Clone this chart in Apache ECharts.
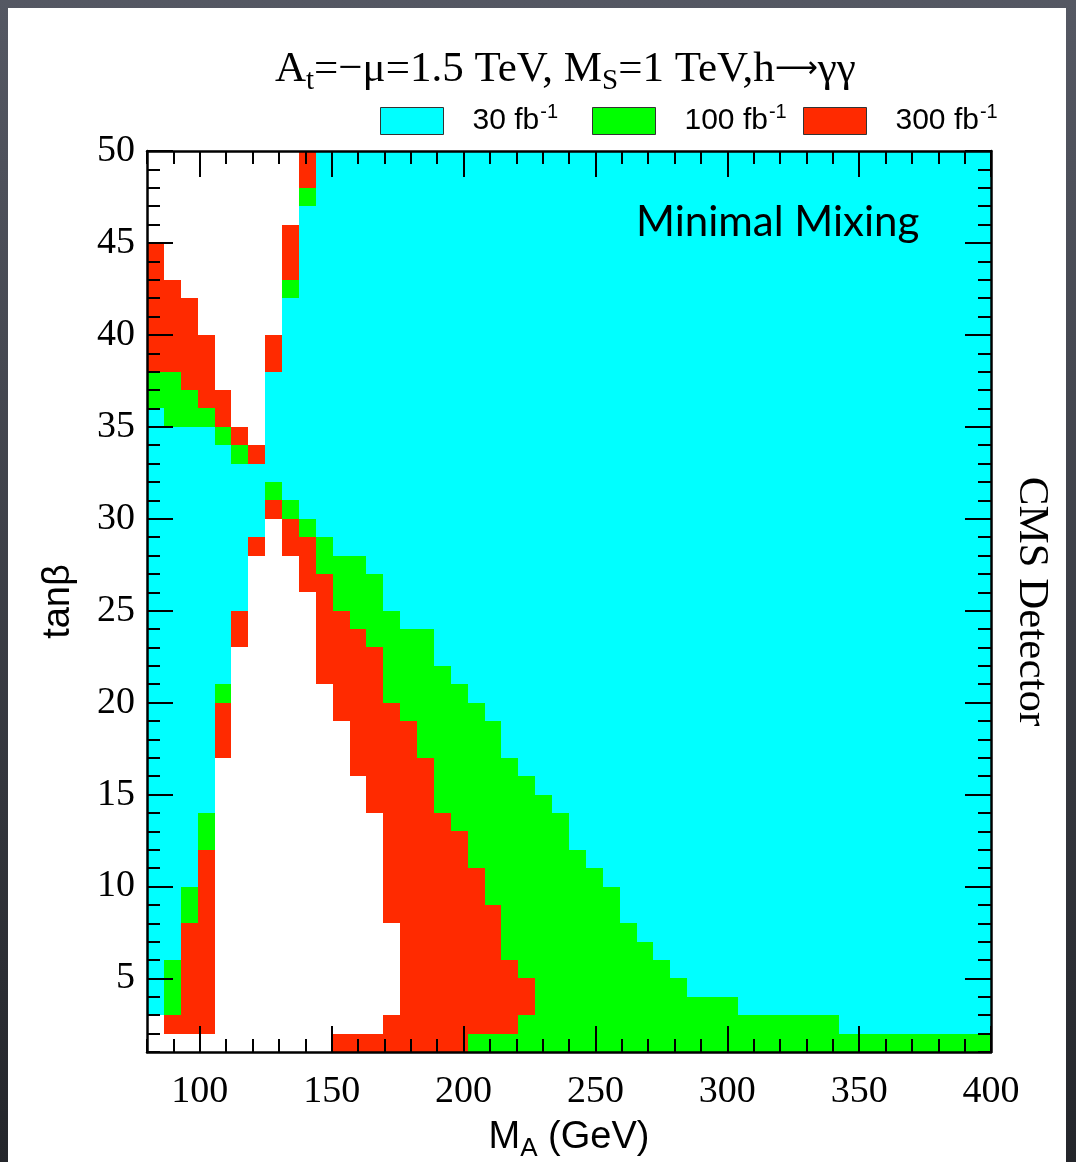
<!DOCTYPE html>
<html>
<head>
<meta charset="utf-8">
<script src="https://cdn.jsdelivr.net/npm/echarts@6/dist/echarts.min.js"></script>
<style>
  html, body { margin: 0; padding: 0; width: 1076px; height: 1162px; overflow: hidden;
    background: linear-gradient(to bottom, #555863, #24262b); }
  #sheet { position: absolute; left: 8px; top: 8px; width: 1058px; height: 1154px; background: #fff; }
  #chart { position: absolute; left: 0; top: 0; width: 1076px; height: 1162px; }
</style>
</head>
<body>
<div id="sheet"></div>
<div id="chart"></div>
<script>
// Binning of the scan: M_A in GeV, tan(beta) in unit steps
const massMin = 80, massMax = 400, massStep = 6.4;
const tanbMin = 1, tanbMax = 50, tanbStep = 1;

// Axis tick labels
const xTicks = [100, 150, 200, 250, 300, 350, 400];
const yTicks = [5, 10, 15, 20, 25, 30, 35, 40, 45, 50];

// Integrated luminosity needed for discovery
const lumiLabels = ['30', '100', '300'];
const lumiCodes = ['C', 'G', 'R'];
const lumiColors = ['#00ffff', '#00ff00', '#ff2a00'];

// Reach per tan(beta) row, from tanβ = 49–50 down to 1–2, run-length coded over
// the 50 M_A bins: W = not reached, C = 30 fb-1, G = 100 fb-1, R = 300 fb-1
const reachRows = [
  'W9 R1 C40',                 // 49-50
  'W9 R1 C40',                 // 48-49
  'W9 G1 C40',                 // 47-48
  'W9 C41',                    // 46-47
  'W8 R1 C41',                 // 45-46
  'R1 W7 R1 C41',              // 44-45
  'R1 W7 R1 C41',              // 43-44
  'R2 W6 G1 C41',              // 42-43
  'R3 W5 C42',                 // 41-42
  'R3 W5 C42',                 // 40-41
  'R4 W3 R1 C42',              // 39-40
  'R4 W3 R1 C42',              // 38-39
  'G2 R2 W3 C43',              // 37-38
  'G3 R2 W2 C43',              // 36-37
  'C1 G3 R1 W2 C43',           // 35-36
  'C4 G1 R1 W1 C43',           // 34-35
  'C5 G1 R1 C43',              // 33-34
  'C50',                       // 32-33
  'C7 G1 C42',                 // 31-32
  'C7 R1 G1 C41',              // 30-31
  'C7 W1 R1 G1 C40',           // 29-30
  'C6 R1 W1 R2 G1 C39',        // 28-29
  'C6 W3 R1 G3 C37',           // 27-28
  'C6 W3 R2 G3 C36',           // 26-27
  'C6 W4 R1 G3 C36',           // 25-26
  'C5 R1 W4 R2 G3 C35',        // 24-25
  'C5 R1 W4 R3 G4 C33',        // 23-24
  'C5 W5 R4 G3 C33',           // 22-23
  'C5 W5 R4 G4 C32',           // 21-22
  'C4 G1 W6 R3 G5 C31',        // 20-21
  'C4 R1 W6 R4 G5 C30',        // 19-20
  'C4 R1 W7 R4 G5 C29',        // 18-19
  'C4 R1 W7 R4 G5 C29',        // 17-18
  'C4 W8 R5 G5 C28',           // 16-17
  'C4 W9 R4 G6 C27',           // 15-16
  'C4 W9 R4 G7 C26',           // 14-15
  'C3 G1 W10 R4 G7 C25',       // 13-14
  'C3 G1 W10 R5 G6 C25',       // 12-13
  'C3 R1 W10 R5 G7 C24',       // 11-12
  'C3 R1 W10 R6 G7 C23',       // 10-11
  'C2 G1 R1 W10 R6 G8 C22',    // 9-10
  'C2 G1 R1 W10 R7 G7 C22',    // 8-9
  'C2 R2 W11 R6 G8 C21',       // 7-8
  'C2 R2 W11 R6 G9 C20',       // 6-7
  'C1 G1 R2 W11 R7 G9 C19',    // 5-6
  'C1 G1 R2 W11 R8 G9 C18',    // 4-5
  'C1 G1 R2 W11 R8 G12 C15',   // 3-4
  'W1 R3 W10 R8 G19 C9',       // 2-3
  'W11 R8 G31'                 // 1-2
];

// Expand the runs into rectangles [mLow, mHigh, tLow, tHigh] per luminosity class
const reach = { C: [], G: [], R: [] };
reachRows.forEach((row, r) => {
  const tHigh = tanbMax - r * tanbStep;
  const tLow = tHigh - tanbStep;
  let bin = 0;
  row.split(' ').forEach(tok => {
    const code = tok[0];
    const n = parseInt(tok.slice(1), 10);
    if (reach[code]) {
      reach[code].push([massMin + bin * massStep, massMin + (bin + n) * massStep, tLow, tHigh]);
    }
    bin += n;
  });
});

function renderCell(params, api) {
  const p0 = api.coord([api.value(0), api.value(3)]);
  const p1 = api.coord([api.value(1), api.value(2)]);
  const x0 = Math.round(p0[0]), y0 = Math.round(p0[1]);
  const x1 = Math.round(p1[0]), y1 = Math.round(p1[1]);
  return {
    type: 'rect',
    shape: { x: x0, y: y0, width: x1 - x0, height: y1 - y0 },
    style: { fill: api.visual('color') }
  };
}

const serif = 'Liberation Serif';
const sans = 'Liberation Sans';
const frame = { show: true, onZero: false, lineStyle: { color: '#000', width: 2.5 } };
const tickStyle = { color: '#000', width: 2 };

function massAxis(position, major) {
  const ax = {
    type: 'value', min: massMin, max: massMax, position: position, z: 5,
    splitLine: { show: false },
    axisLine: major ? frame : { show: false },
    axisLabel: { show: false },
    axisTick: { show: true, inside: true, length: major ? 26 : 13, lineStyle: tickStyle }
  };
  if (major) {
    ax.axisTick.customValues = xTicks;
  } else {
    ax.interval = 10;
  }
  return ax;
}

function tanbAxis(position, major) {
  const ax = {
    type: 'value', min: tanbMin, max: tanbMax, position: position, z: 5,
    splitLine: { show: false },
    axisLine: major ? frame : { show: false },
    axisLabel: { show: false },
    axisTick: { show: true, inside: true, length: major ? 26 : 13, lineStyle: tickStyle }
  };
  if (major) {
    ax.axisTick.customValues = yTicks;
  } else {
    ax.interval = 1;
  }
  return ax;
}

const xBottom = massAxis('bottom', true);
xBottom.axisLabel = { show: true, customValues: xTicks, fontFamily: serif, fontSize: 38, color: '#000', margin: 21 };
xBottom.name = '{m|M}{s|A}{m| (GeV)}';
xBottom.nameLocation = 'middle';
xBottom.nameGap = 62;
xBottom.nameTextStyle = {
  rich: {
    m: { fontFamily: sans, fontSize: 38, color: '#000' },
    s: { fontFamily: sans, fontSize: 26, color: '#000', padding: [22, 0, 0, 0] }
  }
};

const yLeft = tanbAxis('left', true);
yLeft.axisLabel = { show: true, customValues: yTicks, fontFamily: serif, fontSize: 38, color: '#000', margin: 12 };
yLeft.name = 'tanβ';
yLeft.nameLocation = 'middle';
yLeft.nameRotate = 90;
yLeft.nameGap = 69;
yLeft.nameTextStyle = { fontFamily: sans, fontSize: 38, color: '#000' };

const yRight = tanbAxis('right', true);
yRight.name = 'CMS Detector';
yRight.nameLocation = 'middle';
yRight.nameRotate = -90;
yRight.nameGap = 19;
yRight.nameTextStyle = { fontFamily: serif, fontSize: 43, color: '#000' };

const legendLeft = [375, 587, 798];

const titleTok = { fontFamily: serif, fontSize: 43, fontWeight: 'normal', color: '#000' };

const option = {
  animation: false,
  grid: { left: 147, top: 151, width: 844, height: 901, containLabel: false, outerBoundsMode: 'none' },
  title: [
    {
      text: '{n|A}{b|t}{n|=−μ=1.5 TeV, M}{b|S}{n|=1 TeV,h}{a|⟶}{n|γγ}',
      left: 270, top: 38,
      textStyle: {
        fontWeight: 'normal',
        rich: {
          n: titleTok,
          a: { fontFamily: 'DejaVu Sans', fontSize: 30, fontWeight: 'normal', color: '#000' },
          b: { fontFamily: serif, fontSize: 29, fontWeight: 'normal', color: '#000', padding: [24, 0, 0, 0] }
        }
      }
    },
    {
      text: 'Minimal Mixing',
      left: 631, top: 196,
      textStyle: { fontFamily: 'Lato', fontSize: 42, fontWeight: 'normal', color: '#000' }
    }
  ],
  legend: lumiLabels.map((lumi, i) => ({
    left: legendLeft[i], top: 97,
    itemWidth: 63, itemHeight: 27,
    icon: 'rect', selectedMode: false,
    data: [{ name: lumi + ' fb-1', itemStyle: { borderColor: '#333', borderWidth: 1 } }],
    formatter: name => '{t|' + name.split(' ')[0] + ' fb}{e|-1}',
    textStyle: {
      padding: [0, 0, 0, 24],
      rich: {
        t: { fontFamily: sans, fontSize: 30, color: '#000' },
        e: { fontFamily: sans, fontSize: 20, color: '#000', padding: [0, 0, 18, 1] }
      }
    }
  })),
  xAxis: [xBottom, massAxis('bottom', false), massAxis('top', true), massAxis('top', false)],
  yAxis: [yLeft, tanbAxis('left', false), yRight, tanbAxis('right', false)],
  series: lumiCodes.map((code, i) => ({
    type: 'custom',
    name: lumiLabels[i] + ' fb-1',
    coordinateSystem: 'cartesian2d',
    xAxisIndex: 0, yAxisIndex: 0,
    z: 2, silent: true,
    itemStyle: { color: lumiColors[i] },
    encode: { x: [0, 1], y: [2, 3] },
    renderItem: renderCell,
    data: reach[code]
  }))
};

const chart = echarts.init(document.getElementById('chart'), null, { renderer: 'canvas' });
chart.setOption(option);
</script>
</body>
</html>
